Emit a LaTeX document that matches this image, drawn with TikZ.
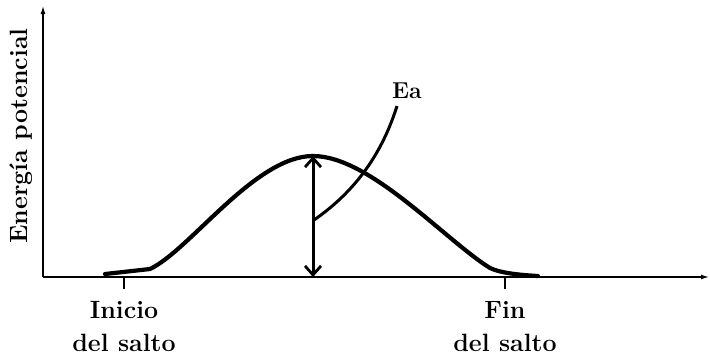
\documentclass[tikz,border=0pt]{standalone}
\usepackage{fontspec}
\usepackage{xcolor}
\usepackage{tikz}
\usetikzlibrary{arrows.meta,positioning,calc}
\tikzset{
  every picture/.style={line width=1.2pt},
  axis/.style={-{Latex[length=8pt,width=5pt]}, line width=1.3pt},
  tick/.style={line width=1.6pt},
  curve/.style={line width=4.2pt, line cap=round, line join=round},
  span/.style={{Straight Barb[length=9pt,width=16pt,line width=2.8pt]}-{Straight Barb[length=9pt,width=16pt,line width=2.8pt]}, line width=3pt},
  leader/.style={line width=3pt},
  lbl/.style={font=\fontsize{25}{28}\selectfont\bfseries, align=center, inner sep=0pt},
  small/.style={font=\fontsize{23}{26}\selectfont\bfseries, inner sep=0pt},
}

\begin{document}
\begin{tikzpicture}[x=1pt, y=-1pt]
  \useasboundingbox (0,0) rectangle (710,359);
  % axes
  \coordinate (o) at (43,277);
  \coordinate (ytop) at (43,6);
  \coordinate (xend) at (709,277);
  \draw[axis] (o) -- (ytop);
  \draw[axis] (o) -- (xend);
  \node[lbl, rotate=90] (ylab) at (21,136) {Energía potencial};
  % ticks and their labels
  \coordinate (t1) at (124,277);
  \coordinate (t2) at (505,277);
  \draw[tick] (t1) -- ++(0,12);
  \draw[tick] (t2) -- ++(0,12);
  \node[lbl, below=24pt of t1] (start) {Inicio\\[5pt]del salto};
  \node[lbl, below=24pt of t2] (end) {Fin\\[5pt]del salto};
  % energy profile
  \coordinate (peak) at (313,156);
  \coordinate (base) at (313,277);
  \draw[curve] (105,274) -- (150,269)
    .. controls (190,250) and (255,156) .. (peak)
    .. controls (370,156) and (445,240) .. (490,268)
    .. controls (500,273) and (520,275) .. (538,276);
  \draw[span] (base) -- (peak);
  % activation energy
  \node[small] (ea) at (407,91) {Ea};
  \coordinate (lead) at (397,106);
  \draw[leader] (lead) .. controls (380,160) and (350,195) .. (314,220);
\end{tikzpicture}
\end{document}
